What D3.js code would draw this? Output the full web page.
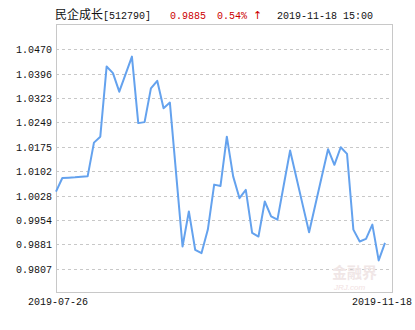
<!DOCTYPE html>
<html>
<head>
<meta charset="utf-8">
<script src="https://cdn.jsdelivr.net/npm/d3@7"></script>
<style>
  body { margin: 0; background: #fff; }
  svg { display: block; }
  .tick-label { font-family: "Liberation Mono", "DejaVu Sans Mono", monospace; font-size: 10px; fill: #111; }
  .grid { stroke: #c8c8c8; stroke-width: 1; stroke-dasharray: 3,3; }
  .frame { fill: none; stroke: #c8c8c8; stroke-width: 1; }
  .nav { fill: none; stroke: #64a2ee; stroke-width: 2; stroke-linejoin: round; }
</style>
</head>
<body>
<svg id="chart" width="415" height="330"></svg>
<script>
// header
const fundName = "民企成长";
const fundCode = "[512790]";
const lastValue = "0.9885";
const lastChange = "0.54%";
const lastArrow = "↑";
const lastTime = "2019-11-18 15:00";

// axis labels
const yTicks = [1.0470, 1.0396, 1.0323, 1.0249, 1.0175, 1.0102, 1.0028, 0.9954, 0.9881, 0.9807];
const xLabels = ["2019-07-26", "2019-11-18"];

// unit net value, one per trading point
const nav = [
  1.0040, 1.0081, 1.0082, 1.0083, 1.0085, 1.0086, 1.0188, 1.0206, 1.0418, 1.0398,
  1.0342, 1.0395, 1.0448, 1.0247, 1.0250, 1.0352, 1.0375, 1.0292, 1.0309, 1.0091,
  0.9874, 0.9980, 0.9864, 0.9854, 0.9925, 1.0061, 1.0057, 1.0206, 1.0086, 1.0020,
  1.0045, 0.9915, 0.9904, 1.0010, 0.9965, 0.9955, 1.0060, 1.0164, 1.0082, 0.9999,
  0.9917, 1.0001, 1.0085, 1.0168, 1.0121, 1.0174, 1.0154, 0.9925, 0.9889, 0.9897,
  0.9940, 0.9832, 0.9885
];

const svg = d3.select("#chart");
const pLeft = 56, pRight = 392, pTop = 25, pBottom = 293;

let step = (yTicks[0] - yTicks[yTicks.length - 1]) / (yTicks.length - 1);
let yScale = d3.scaleLinear()
  .domain([yTicks[yTicks.length - 1] - step, yTicks[0] + step])
  .range([pBottom, pTop]);
let xScale = d3.scaleLinear().domain([0, nav.length - 1]).range([pLeft, 385]);

// title line
let title = svg.append("text").attr("x", 55).attr("y", 19)
  .attr("font-family", "'Liberation Mono', 'DejaVu Sans Mono', monospace")
  .attr("font-size", "10px").attr("fill", "#111");
title.append("tspan").attr("font-family", "'Noto Sans CJK SC', sans-serif")
  .attr("font-size", "12px").text(fundName);
title.append("tspan").text(fundCode);
svg.append("text").attr("x", 170).attr("y", 19).attr("class", "tick-label")
  .style("fill", "#cc0000").text(lastValue);
let chg = svg.append("text").attr("x", 217).attr("y", 19).attr("class", "tick-label")
  .style("fill", "#cc0000");
chg.append("tspan").text(lastChange + " ");
chg.append("tspan")
  .style("font-size", "11px").style("font-family", "'DejaVu Sans', sans-serif")
  .style("fill", "#cc0000")
  .text(lastArrow);
svg.append("text").attr("x", 277).attr("y", 19).attr("class", "tick-label")
  .text(lastTime);

// gridlines + y labels
svg.selectAll(".grid").data(yTicks).join("line")
  .attr("class", "grid")
  .attr("x1", pLeft).attr("x2", pRight)
  .attr("y1", d => Math.round(yScale(d)) + 0.5)
  .attr("y2", d => Math.round(yScale(d)) + 0.5);
svg.selectAll(".ylab").data(yTicks).join("text")
  .attr("class", "tick-label ylab")
  .attr("x", 52).attr("y", d => yScale(d) + 4)
  .attr("text-anchor", "end")
  .text(d => d.toFixed(4));

// frame
svg.append("rect").attr("class", "frame")
  .attr("x", pLeft + 0.5).attr("y", pTop - 0.5)
  .attr("width", pRight - pLeft).attr("height", pBottom - pTop);

// watermark
svg.append("text").attr("x", 332).attr("y", 278)
  .attr("font-family", "'Noto Sans CJK SC', sans-serif").attr("font-size", "15px")
  .attr("font-weight", "bold").attr("fill", "#f0e6e6").text("金融界");
svg.append("text").attr("x", 334).attr("y", 290)
  .attr("font-family", "Arial, sans-serif").attr("font-size", "8px")
  .attr("font-style", "italic").attr("fill", "#f2e2e2").text("JRJ.com");

// line
let lineGen = d3.line().x((d, i) => xScale(i)).y(d => yScale(d));
svg.append("path").attr("class", "nav").attr("d", lineGen(nav));

// x labels
svg.append("text").attr("class", "tick-label").attr("x", xScale(0) + 2).attr("y", 305)
  .attr("text-anchor", "middle").text(xLabels[0]);
svg.append("text").attr("class", "tick-label").attr("x", 412).attr("y", 305)
  .attr("text-anchor", "end").text(xLabels[1]);
</script>
</body>
</html>
